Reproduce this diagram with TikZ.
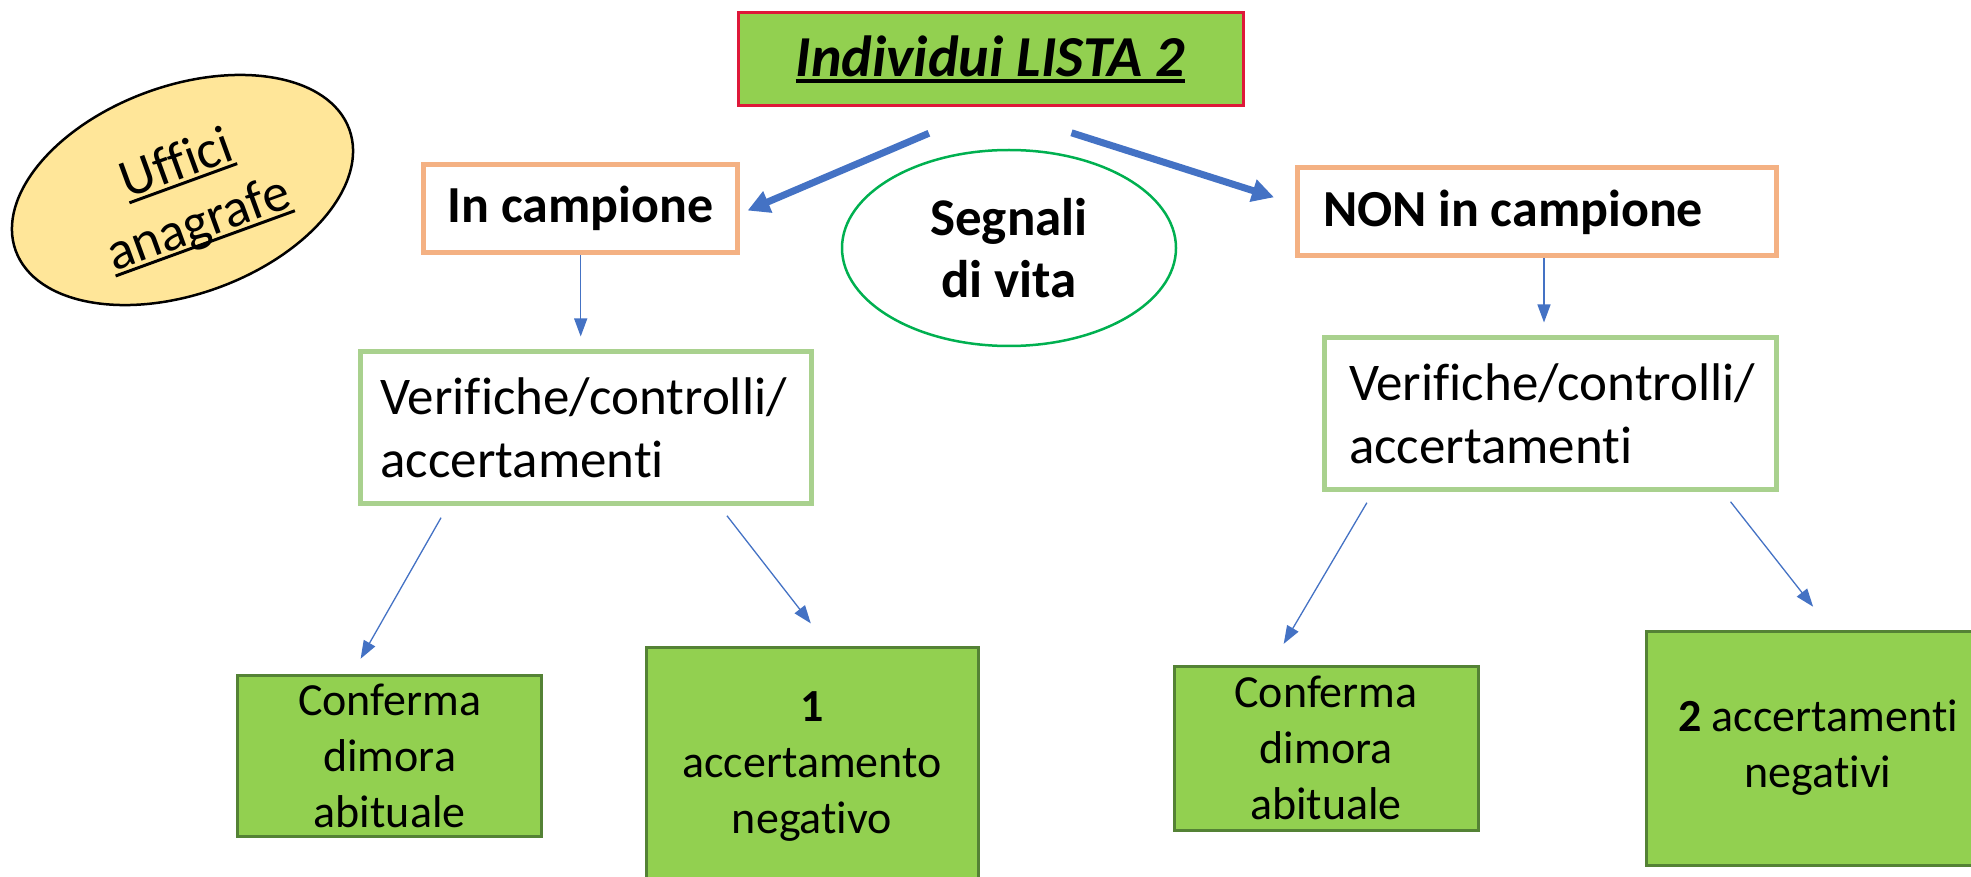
\documentclass[tikz,border=0pt]{standalone}
\usepackage{fontspec}
\setmainfont{Carlito}[Ligatures={NoCommon,NoRare}, Contextuals=NoAlternate, RawFeature={-liga;-clig;-calt}]
\usetikzlibrary{arrows.meta,shapes.geometric}

\definecolor{leafgreen}{HTML}{92D050}
\definecolor{leafedge}{HTML}{548235}
\definecolor{titleedge}{HTML}{DE1839}
\definecolor{sampleedge}{HTML}{F4B183}
\definecolor{checkedge}{HTML}{A9D18E}
\definecolor{signaledge}{HTML}{00B050}
\definecolor{officefill}{HTML}{FFE699}
\definecolor{flowblue}{HTML}{4472C4}

\newcommand{\lined}[1]{\setbox0\hbox{#1}\rlap{\rule[-0.11em]{\wd0}{0.055em}}\box0}

\tikzset{
	samplebox/.style={draw=sampleedge, line width=5pt, fill=white, minimum height=88pt, font=\fontsize{52}{62}\selectfont\bfseries},
	checkbox/.style={draw=checkedge, line width=5pt, fill=white, minimum height=151pt, align=flush left, font=\fontsize{53}{63}\selectfont},
	leafbox/.style={draw=leafedge, line width=3pt, fill=leafgreen, align=center, font=\fontsize{46}{56}\selectfont},
	bigflow/.style={-{Triangle[length=22pt,width=22pt]}, line width=7pt, flowblue},
	thinflow/.style={-{Triangle[length=18pt,width=13pt]}, line width=1.3pt, flowblue}
}

\begin{document}
\begin{tikzpicture}[x=1pt,y=-1pt]

	\useasboundingbox (0,0) rectangle (1971,877);

	\node[draw=titleedge, line width=3pt, fill=leafgreen, minimum width=505pt, minimum height=93pt, font=\fontsize{58}{68}\selectfont\bfseries\itshape] (title) at (990.5,59) {\lined{Individui LISTA 2}};

	\node[ellipse, draw=black, line width=2.5pt, fill=officefill, minimum width=355pt, minimum height=208pt, rotate=20] (uffici) at (182.5,190) {};
	\node[align=center, rotate=20, font=\fontsize{54}{64}\selectfont] (ufficitext) at (188,196) {\lined{Uffici}\\\lined{anagrafe}};

	\node[ellipse, draw=signaledge, line width=2.5pt, minimum width=334pt, minimum height=196pt, align=center, font=\fontsize{53}{62}\selectfont\bfseries] (segnali) at (1009,248) {Segnali\\di vita};

	\node[samplebox, minimum width=314pt] (incamp) at (580.7,208.7) {In campione};
	\node[samplebox, inner xsep=25.5pt, text width=428pt, align=flush left] (noncamp) at (1537,212) {NON in campione};

	\node[checkbox, inner xsep=20pt, text width=411pt] (verL) at (586,427.5) {Verifiche/controlli/\\accertamenti};
	\node[checkbox, inner xsep=25pt, text width=402pt] (verR) at (1550,413.5) {Verifiche/controlli/\\accertamenti};

	\node[leafbox, minimum width=304pt, minimum height=161pt] (confL) at (389.7,755.5) {Conferma\\dimora\\abituale};
	\node[leafbox, minimum width=332pt, minimum height=240pt] (acc1) at (812,767) {\textbf{1}\\accertamento\\negativo};
	\node[leafbox, minimum width=304pt, minimum height=164pt] (confR) at (1326,748) {Conferma\\dimora\\abituale};
	\node[leafbox, minimum width=343pt, minimum height=234pt] (acc2) at (1818,748) {\textbf{2} accertamenti\\negativi};

	% title to the two groups
	\draw[bigflow, shorten <=67pt, shorten >=8pt] (title.south) -- ([yshift=-5pt]incamp.east);
	\draw[bigflow, shorten <=85pt, shorten >=22pt] (title.south) -- ([yshift=8pt]noncamp.west);

	\draw[thinflow, shorten >=13pt] (incamp.south) -- (incamp.south |- verL.north);
	\draw[thinflow, shorten >=13pt] ([xshift=7pt]noncamp.south) -- ([xshift=7pt]noncamp.south |- verR.north);

	\foreach \a/\sa/\b/\sb/\gs/\ge in {verL.south west/90/confL.north west/116/14/17, verL.south east/-95/acc1.north/16/13/28, verR.south west/52/confR.north west/99/13/24, verR.south east/-56/acc2.north/13/13/29}
		\draw[thinflow, shorten <=\gs pt, shorten >=\ge pt] ([xshift=\sa pt]\a) -- ([xshift=\sb pt]\b);
		; %end for \a

\end{tikzpicture}
\end{document}
